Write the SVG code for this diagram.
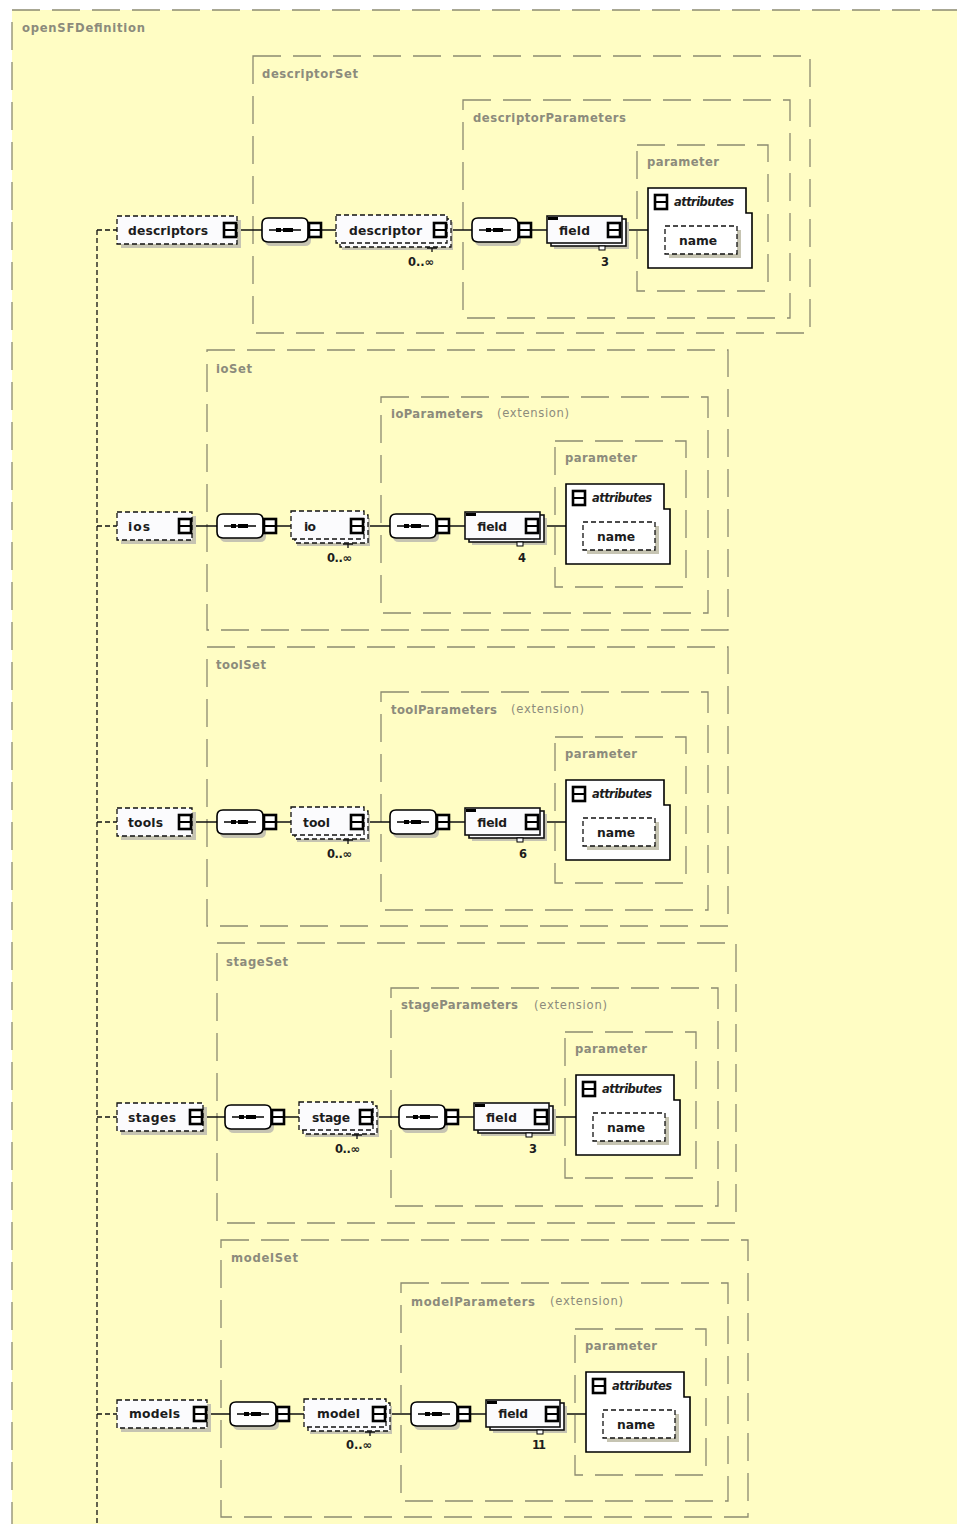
<svg xmlns="http://www.w3.org/2000/svg" width="957" height="1524" viewBox="0 0 957 1524">
<style>
.bx{fill:none;stroke:#8c8a70;stroke-width:1.3;stroke-dasharray:28 12}
.lb{font-family:"DejaVu Sans",sans-serif;font-weight:bold;font-size:11.6px;fill:#8c8b7c}
.ex{font-family:"DejaVu Sans",sans-serif;font-size:11.6px;fill:#8c8b7c}
.nt{font-family:"DejaVu Sans",sans-serif;font-weight:bold;font-size:12.3px;fill:#1c1c1c}
.at{font-family:"DejaVu Sans",sans-serif;font-weight:bold;font-style:italic;font-size:11.5px;fill:#1c1c1c}
.ct{font-family:"DejaVu Sans",sans-serif;font-weight:bold;font-size:11.5px;fill:#1c1c1c}
.sh{fill:#c6c4b2}
.dn{fill:#fbfbfd;stroke:#111;stroke-width:1.3;stroke-dasharray:5 3}
.sn{fill:#fbfbfd;stroke:#111;stroke-width:1.6}
.ln{stroke:#111;stroke-width:1.3;fill:none}
.cn{stroke:#111;stroke-width:1.3;stroke-dasharray:5 3;fill:none}
.ab{fill:#fff;stroke:#000;stroke-width:1.6}
</style>
<defs>
<g id="exp"><rect x="1" y="1" width="12" height="14" fill="#fff" stroke="#000" stroke-width="2.6"/><line x1="1" y1="8" x2="13" y2="8" stroke="#000" stroke-width="2"/></g>
<g id="seq">
<path class="sh" d="M9,-8 H43 Q49,-8 49,-2 V10 Q49,16 43,16 H9 Q3,16 3,10 V-2 Q3,-8 9,-8 Z"/>
<path d="M6,-12 H40 Q46,-12 46,-6 V6 Q46,12 40,12 H6 Q0,12 0,6 V-6 Q0,-12 6,-12 Z" fill="#fff" stroke="#000" stroke-width="1.6"/>
<line x1="7" y1="0" x2="39" y2="0" stroke="#000" stroke-width="1.5"/>
<rect x="14" y="-2" width="5" height="4" fill="#000"/>
<rect x="21" y="-2" width="10" height="4" fill="#000"/>
<use href="#exp" x="46" y="-8"/>
</g>
</defs>

<rect x="0" y="0" width="957" height="1524" fill="#ffffff"/>
<g id="openSFDefinition">
<rect x="12" y="10" width="1000" height="1600" fill="#fffdc4" stroke="#8c8a70" stroke-width="1.3" stroke-dasharray="28 12"/>
<text class="lb" x="22" y="32" textLength="123">openSFDefinition</text>
</g>

<!-- containers -->
<g id="descriptorSet"><rect class="bx" x="253" y="56" width="557" height="277"/><text class="lb" x="262" y="78" textLength="96">descriptorSet</text></g>
<g id="descriptorParameters"><rect class="bx" x="463" y="100" width="327" height="218"/><text class="lb" x="473" y="122" textLength="153">descriptorParameters</text></g>

<g id="ioSet"><rect class="bx" x="207" y="350" width="521" height="280"/><text class="lb" x="216" y="373" textLength="36">ioSet</text></g>
<g id="ioParameters"><rect class="bx" x="381" y="397" width="327" height="216"/><text class="lb" x="391" y="418" textLength="92">ioParameters</text><text class="ex" x="497" y="417" textLength="72">(extension)</text></g>

<g id="toolSet"><rect class="bx" x="207" y="647" width="521" height="279"/><text class="lb" x="216" y="669" textLength="50">toolSet</text></g>
<g id="toolParameters"><rect class="bx" x="381" y="692" width="327" height="218"/><text class="lb" x="391" y="714" textLength="106">toolParameters</text><text class="ex" x="511" y="713" textLength="73">(extension)</text></g>

<g id="stageSet"><rect class="bx" x="217" y="943" width="519" height="280"/><text class="lb" x="226" y="966" textLength="62">stageSet</text></g>
<g id="stageParameters"><rect class="bx" x="391" y="988" width="327" height="218"/><text class="lb" x="401" y="1009" textLength="117">stageParameters</text><text class="ex" x="534" y="1009" textLength="73">(extension)</text></g>

<g id="modelSet"><rect class="bx" x="221" y="1240" width="527" height="277"/><text class="lb" x="231" y="1262" textLength="67">modelSet</text></g>
<g id="modelParameters"><rect class="bx" x="401" y="1283" width="327" height="218"/><text class="lb" x="411" y="1306" textLength="124">modelParameters</text><text class="ex" x="550" y="1305" textLength="73">(extension)</text></g>

<!-- connectors -->
<g id="connectors">
<path class="cn" d="M97,230 V1524 M97,230 H117 M97,526 H117 M97,822 H117 M97,1117 H117 M97,1414 H117"/>
<path class="ln" d="M237,230 H262 M322,230 H336 M447,230 H472 M532,230 H547 M622,230 H648"/>
<path class="ln" d="M192,526 H217 M277,526 H291 M364,526 H390 M450,526 H465 M540,526 H566"/>
<path class="ln" d="M192,822 H217 M277,822 H291 M364,822 H390 M450,822 H465 M540,822 H566"/>
<path class="ln" d="M203,1117 H225 M285,1117 H299 M373,1117 H399 M459,1117 H474 M549,1117 H576"/>
<path class="ln" d="M207,1414 H230 M290,1414 H304 M386,1414 H411 M471,1414 H486 M560,1414 H586"/>
</g>

<!-- section 1 -->
<g id="descriptors"><rect class="sh" x="121" y="220" width="120" height="28"/><rect class="dn" x="117" y="216" width="120" height="28"/><text class="nt" x="128" y="235" textLength="80">descriptors</text><use href="#exp" x="223" y="222"/></g>
<g id="seq-descriptors" transform="translate(262,230)"><use href="#seq"/></g>
<g id="descriptor"><rect class="sh" x="342" y="222" width="111" height="28"/><rect class="dn" x="340" y="219" width="111" height="28"/><rect class="dn" x="336" y="215" width="111" height="28"/><text class="nt" x="349" y="235" textLength="73">descriptor</text><use href="#exp" x="433" y="222"/><path class="ln" d="M427,248 h10 m-5,0 v4"/><text class="ct" x="408" y="266" textLength="26">0..∞</text></g>
<g id="seq-descriptorParameters" transform="translate(472,230)"><use href="#seq"/></g>
<g id="field-descriptor"><rect class="sh" x="554" y="222" width="75" height="27"/><rect class="sn" x="551" y="219" width="75" height="27"/><rect class="sn" x="547" y="216" width="75" height="27"/><rect x="548" y="217" width="10" height="3" fill="#000"/><text class="nt" x="559" y="235" textLength="31">field</text><use href="#exp" x="607" y="222"/><rect x="599" y="246" width="6" height="4" fill="#fff" stroke="#000"/><text class="ct" x="601" y="266">3</text></g>
<g id="parameter-descriptor" transform="translate(637,230)">
<rect class="bx" x="0" y="-85" width="131" height="146"/><text class="lb" x="10" y="-64" textLength="72">parameter</text>
<g id="attributes-descriptor"><path class="ab" d="M11,-42 H109 V-17 H115 V38 H11 Z"/><use href="#exp" x="17" y="-36"/><text class="at" x="37" y="-24" textLength="60">attributes</text>
<g id="name-descriptor"><rect class="sh" x="32" y="0" width="72" height="28"/><rect class="dn" x="28" y="-4" width="72" height="28" style="fill:#fff"/><text class="nt" x="42" y="15" textLength="38">name</text></g></g>
</g>

<!-- section 2 -->
<g id="ios"><rect class="sh" x="121" y="516" width="75" height="28"/><rect class="dn" x="117" y="512" width="75" height="28"/><text class="nt" x="128" y="531" textLength="22">ios</text><use href="#exp" x="178" y="518"/></g>
<g id="seq-ios" transform="translate(217,526)"><use href="#seq"/></g>
<g id="io"><rect class="sh" x="297" y="518" width="73" height="28"/><rect class="dn" x="295" y="515" width="73" height="28"/><rect class="dn" x="291" y="511" width="73" height="28"/><text class="nt" x="304" y="531" textLength="12">io</text><use href="#exp" x="350" y="518"/><path class="ln" d="M343,544 h10 m-5,0 v4"/><text class="ct" x="327" y="562" textLength="25">0..∞</text></g>
<g id="seq-ioParameters" transform="translate(390,526)"><use href="#seq"/></g>
<g id="field-io"><rect class="sh" x="472" y="518" width="75" height="27"/><rect class="sn" x="469" y="515" width="75" height="27"/><rect class="sn" x="465" y="512" width="75" height="27"/><rect x="466" y="513" width="10" height="3" fill="#000"/><text class="nt" x="477" y="531" textLength="30">field</text><use href="#exp" x="525" y="518"/><rect x="517" y="542" width="6" height="4" fill="#fff" stroke="#000"/><text class="ct" x="518" y="562">4</text></g>
<g id="parameter-io" transform="translate(555,526)">
<rect class="bx" x="0" y="-85" width="131" height="146"/><text class="lb" x="10" y="-64" textLength="72">parameter</text>
<g id="attributes-io"><path class="ab" d="M11,-42 H109 V-17 H115 V38 H11 Z"/><use href="#exp" x="17" y="-36"/><text class="at" x="37" y="-24" textLength="60">attributes</text>
<g id="name-io"><rect class="sh" x="32" y="0" width="72" height="28"/><rect class="dn" x="28" y="-4" width="72" height="28" style="fill:#fff"/><text class="nt" x="42" y="15" textLength="38">name</text></g></g>
</g>

<!-- section 3 -->
<g id="tools"><rect class="sh" x="121" y="812" width="75" height="28"/><rect class="dn" x="117" y="808" width="75" height="28"/><text class="nt" x="128" y="827" textLength="35">tools</text><use href="#exp" x="178" y="814"/></g>
<g id="seq-tools" transform="translate(217,822)"><use href="#seq"/></g>
<g id="tool"><rect class="sh" x="297" y="814" width="73" height="28"/><rect class="dn" x="295" y="811" width="73" height="28"/><rect class="dn" x="291" y="807" width="73" height="28"/><text class="nt" x="303" y="827" textLength="27">tool</text><use href="#exp" x="350" y="814"/><path class="ln" d="M343,840 h10 m-5,0 v4"/><text class="ct" x="327" y="858" textLength="25">0..∞</text></g>
<g id="seq-toolParameters" transform="translate(390,822)"><use href="#seq"/></g>
<g id="field-tool"><rect class="sh" x="472" y="814" width="75" height="27"/><rect class="sn" x="469" y="811" width="75" height="27"/><rect class="sn" x="465" y="808" width="75" height="27"/><rect x="466" y="809" width="10" height="3" fill="#000"/><text class="nt" x="477" y="827" textLength="30">field</text><use href="#exp" x="525" y="814"/><rect x="517" y="838" width="6" height="4" fill="#fff" stroke="#000"/><text class="ct" x="519" y="858">6</text></g>
<g id="parameter-tool" transform="translate(555,822)">
<rect class="bx" x="0" y="-85" width="131" height="146"/><text class="lb" x="10" y="-64" textLength="72">parameter</text>
<g id="attributes-tool"><path class="ab" d="M11,-42 H109 V-17 H115 V38 H11 Z"/><use href="#exp" x="17" y="-36"/><text class="at" x="37" y="-24" textLength="60">attributes</text>
<g id="name-tool"><rect class="sh" x="32" y="0" width="72" height="28"/><rect class="dn" x="28" y="-4" width="72" height="28" style="fill:#fff"/><text class="nt" x="42" y="15" textLength="38">name</text></g></g>
</g>

<!-- section 4 -->
<g id="stages"><rect class="sh" x="121" y="1107" width="86" height="28"/><rect class="dn" x="117" y="1103" width="86" height="28"/><text class="nt" x="128" y="1122" textLength="48">stages</text><use href="#exp" x="189" y="1109"/></g>
<g id="seq-stages" transform="translate(225,1117)"><use href="#seq"/></g>
<g id="stage"><rect class="sh" x="305" y="1109" width="74" height="28"/><rect class="dn" x="303" y="1106" width="74" height="28"/><rect class="dn" x="299" y="1102" width="74" height="28"/><text class="nt" x="312" y="1122" textLength="38">stage</text><use href="#exp" x="359" y="1109"/><path class="ln" d="M352,1135 h10 m-5,0 v4"/><text class="ct" x="335" y="1153" textLength="25">0..∞</text></g>
<g id="seq-stageParameters" transform="translate(399,1117)"><use href="#seq"/></g>
<g id="field-stage"><rect class="sh" x="481" y="1109" width="75" height="27"/><rect class="sn" x="478" y="1106" width="75" height="27"/><rect class="sn" x="474" y="1103" width="75" height="27"/><rect x="475" y="1104" width="10" height="3" fill="#000"/><text class="nt" x="486" y="1122" textLength="31">field</text><use href="#exp" x="534" y="1109"/><rect x="526" y="1133" width="6" height="4" fill="#fff" stroke="#000"/><text class="ct" x="529" y="1153">3</text></g>
<g id="parameter-stage" transform="translate(565,1117)">
<rect class="bx" x="0" y="-85" width="131" height="146"/><text class="lb" x="10" y="-64" textLength="72">parameter</text>
<g id="attributes-stage"><path class="ab" d="M11,-42 H109 V-17 H115 V38 H11 Z"/><use href="#exp" x="17" y="-36"/><text class="at" x="37" y="-24" textLength="60">attributes</text>
<g id="name-stage"><rect class="sh" x="32" y="0" width="72" height="28"/><rect class="dn" x="28" y="-4" width="72" height="28" style="fill:#fff"/><text class="nt" x="42" y="15" textLength="38">name</text></g></g>
</g>

<!-- section 5 -->
<g id="models"><rect class="sh" x="121" y="1404" width="90" height="28"/><rect class="dn" x="117" y="1400" width="90" height="28"/><text class="nt" x="129" y="1418" textLength="51">models</text><use href="#exp" x="193" y="1406"/></g>
<g id="seq-models" transform="translate(230,1414)"><use href="#seq"/></g>
<g id="model"><rect class="sh" x="310" y="1406" width="82" height="28"/><rect class="dn" x="308" y="1403" width="82" height="28"/><rect class="dn" x="304" y="1399" width="82" height="28"/><text class="nt" x="317" y="1418" textLength="43">model</text><use href="#exp" x="372" y="1406"/><path class="ln" d="M365,1432 h10 m-5,0 v4"/><text class="ct" x="346" y="1449" textLength="26">0..∞</text></g>
<g id="seq-modelParameters" transform="translate(411,1414)"><use href="#seq"/></g>
<g id="field-model"><rect class="sh" x="493" y="1406" width="74" height="27"/><rect class="sn" x="490" y="1403" width="74" height="27"/><rect class="sn" x="486" y="1400" width="74" height="27"/><rect x="487" y="1401" width="10" height="3" fill="#000"/><text class="nt" x="498" y="1418" textLength="30">field</text><use href="#exp" x="545" y="1406"/><rect x="537" y="1430" width="6" height="4" fill="#fff" stroke="#000"/><text class="ct" x="532" y="1449" textLength="14">11</text></g>
<g id="parameter-model" transform="translate(575,1414)">
<rect class="bx" x="0" y="-85" width="131" height="146"/><text class="lb" x="10" y="-64" textLength="72">parameter</text>
<g id="attributes-model"><path class="ab" d="M11,-42 H109 V-17 H115 V38 H11 Z"/><use href="#exp" x="17" y="-36"/><text class="at" x="37" y="-24" textLength="60">attributes</text>
<g id="name-model"><rect class="sh" x="32" y="0" width="72" height="28"/><rect class="dn" x="28" y="-4" width="72" height="28" style="fill:#fff"/><text class="nt" x="42" y="15" textLength="38">name</text></g></g>
</g>
</svg>
